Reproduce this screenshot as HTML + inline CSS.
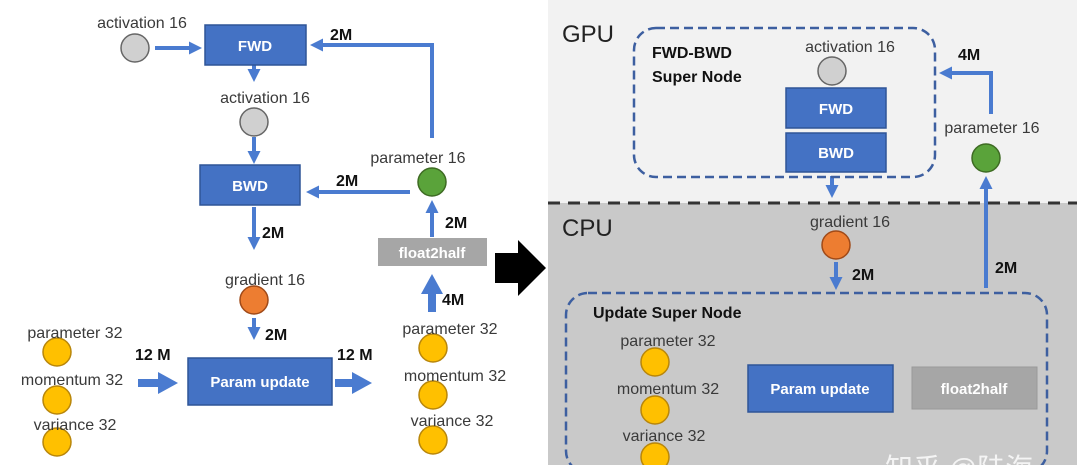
<!DOCTYPE html>
<html><head><meta charset="utf-8"><style>
html,body{margin:0;padding:0;background:#fff;}
svg{display:block;}
text{font-family:"Liberation Sans",Arial,sans-serif;}
.l{font-size:16px;fill:#3a3a3a;}
.b{font-size:16px;font-weight:bold;fill:#111;}
.bx{font-size:15px;font-weight:bold;fill:#fff;}
</style></head><body>
<svg width="1077" height="465" viewBox="0 0 1077 465" xmlns="http://www.w3.org/2000/svg">
<defs>
<marker id="a" markerWidth="13" markerHeight="13" refX="7" refY="6.5" orient="auto" markerUnits="userSpaceOnUse"><path d="M0,0 L13,6.5 L0,13 z" fill="#4a7bd0"/></marker>
<marker id="a2" markerWidth="20" markerHeight="22" refX="10" refY="11" orient="auto" markerUnits="userSpaceOnUse"><path d="M0,0 L20,11 L0,22 z" fill="#4a7bd0"/></marker>
</defs>
<rect x="0" y="0" width="1077" height="465" fill="#fff"/>
<rect x="548" y="0" width="529" height="203" fill="#f2f2f2"/>
<rect x="548" y="203" width="529" height="262" fill="#c9c9c9"/>
<line x1="548" y1="203" x2="1077" y2="203" stroke="#333" stroke-width="3" stroke-dasharray="12,8"/>

<g stroke="#4a7bd0" stroke-width="4" fill="none">
<line x1="155" y1="48" x2="196" y2="48" marker-end="url(#a)"/>
<line x1="254" y1="65" x2="254" y2="76" marker-end="url(#a)"/>
<line x1="254" y1="137" x2="254" y2="158" marker-end="url(#a)"/>
<polyline points="432,138 432,45 316,45" marker-end="url(#a)"/>
<line x1="410" y1="192" x2="312" y2="192" marker-end="url(#a)"/>
<line x1="254" y1="207" x2="254" y2="244" marker-end="url(#a)"/>
<line x1="432" y1="237" x2="432" y2="206" marker-end="url(#a)"/>
<line x1="254" y1="318" x2="254" y2="334" marker-end="url(#a)"/>
<line x1="832" y1="176" x2="832" y2="192" marker-end="url(#a)"/>
<polyline points="991,114 991,73 945,73" marker-end="url(#a)"/>
<line x1="986" y1="288" x2="986" y2="182" marker-end="url(#a)"/>
<line x1="836" y1="262" x2="836" y2="284" marker-end="url(#a)"/>
</g>
<g stroke="#4a7bd0" stroke-width="8" fill="none">
<line x1="432" y1="312" x2="432" y2="284" marker-end="url(#a2)"/>
<line x1="138" y1="383" x2="168" y2="383" marker-end="url(#a2)"/>
<line x1="335" y1="383" x2="362" y2="383" marker-end="url(#a2)"/>
</g>

<g stroke="#2f5597" stroke-width="1.5">
<rect x="205" y="25" width="101" height="40" fill="#4472c4"/>
<rect x="200" y="165" width="100" height="40" fill="#4472c4"/>
<rect x="188" y="358" width="144" height="47" fill="#4472c4"/>
<rect x="786" y="88" width="100" height="40" fill="#4472c4"/>
<rect x="786" y="133" width="100" height="39" fill="#4472c4"/>
<rect x="748" y="365" width="145" height="47" fill="#4472c4"/>
</g>
<rect x="378" y="238" width="109" height="28" fill="#a6a6a6"/>
<rect x="912" y="367" width="125" height="42" fill="#a6a6a6" stroke="#999"/>
<text x="255" y="51" text-anchor="middle" class="bx">FWD</text>
<text x="250" y="191" text-anchor="middle" class="bx">BWD</text>
<text x="260" y="387" text-anchor="middle" class="bx">Param update</text>
<text x="432" y="258" text-anchor="middle" class="bx" fill="#eee">float2half</text>
<text x="836" y="114" text-anchor="middle" class="bx">FWD</text>
<text x="836" y="158" text-anchor="middle" class="bx">BWD</text>
<text x="820" y="394" text-anchor="middle" class="bx">Param update</text>
<text x="974" y="394" text-anchor="middle" class="bx">float2half</text>

<rect x="634" y="28" width="301" height="149" rx="22" fill="none" stroke="#3d5fa0" stroke-width="2.5" stroke-dasharray="9,5"/>
<rect x="566" y="293" width="481" height="180" rx="22" fill="none" stroke="#3d5fa0" stroke-width="2.5" stroke-dasharray="9,5"/>

<g stroke="#666" stroke-width="1.5">
<circle cx="135" cy="48" r="14" fill="#d0d0d0"/>
<circle cx="254" cy="122" r="14" fill="#d0d0d0"/>
<circle cx="832" cy="71" r="14" fill="#d0d0d0"/>
</g>
<g stroke="#3e6b23" stroke-width="1.5" fill="#5aa33a">
<circle cx="432" cy="182" r="14"/>
<circle cx="986" cy="158" r="14"/>
</g>
<g stroke="#a04a18" stroke-width="1.5" fill="#ed7d31">
<circle cx="254" cy="300" r="14"/>
<circle cx="836" cy="245" r="14"/>
</g>
<g stroke="#b8860b" stroke-width="1.5" fill="#ffc000">
<circle cx="57" cy="352" r="14"/><circle cx="57" cy="400" r="14"/><circle cx="57" cy="442" r="14"/>
<circle cx="433" cy="348" r="14"/><circle cx="433" cy="395" r="14"/><circle cx="433" cy="440" r="14"/>
<circle cx="655" cy="362" r="14"/><circle cx="655" cy="410" r="14"/><circle cx="655" cy="457" r="14"/>
</g>

<path d="M495,253 L518,253 L518,240 L546,268 L518,296 L518,283 L495,283 z" fill="#000"/>

<text x="142" y="28" text-anchor="middle" class="l">activation 16</text>
<text x="265" y="103" text-anchor="middle" class="l">activation 16</text>
<text x="418" y="163" text-anchor="middle" class="l">parameter 16</text>
<text x="265" y="285" text-anchor="middle" class="l">gradient 16</text>
<text x="75" y="338" text-anchor="middle" class="l">parameter 32</text>
<text x="72" y="385" text-anchor="middle" class="l">momentum 32</text>
<text x="75" y="430" text-anchor="middle" class="l">variance 32</text>
<text x="450" y="334" text-anchor="middle" class="l">parameter 32</text>
<text x="455" y="381" text-anchor="middle" class="l">momentum 32</text>
<text x="452" y="426" text-anchor="middle" class="l">variance 32</text>
<text x="330" y="40" class="b">2M</text>
<text x="336" y="186" class="b">2M</text>
<text x="262" y="238" class="b">2M</text>
<text x="445" y="228" class="b">2M</text>
<text x="442" y="305" class="b">4M</text>
<text x="265" y="340" class="b">2M</text>
<text x="135" y="360" class="b">12 M</text>
<text x="337" y="360" class="b">12 M</text>

<text x="562" y="42" style="font-size:24px;fill:#222">GPU</text>
<text x="562" y="236" style="font-size:24px;fill:#222">CPU</text>
<text x="652" y="58" class="b">FWD-BWD</text>
<text x="652" y="82" class="b">Super Node</text>
<text x="850" y="52" text-anchor="middle" class="l">activation 16</text>
<text x="992" y="133" text-anchor="middle" class="l">parameter 16</text>
<text x="958" y="60" class="b">4M</text>
<text x="995" y="273" class="b">2M</text>
<text x="850" y="227" text-anchor="middle" class="l">gradient 16</text>
<text x="852" y="280" class="b">2M</text>
<text x="593" y="318" class="b">Update Super Node</text>
<text x="668" y="346" text-anchor="middle" class="l">parameter 32</text>
<text x="668" y="394" text-anchor="middle" class="l">momentum 32</text>
<text x="664" y="441" text-anchor="middle" class="l">variance 32</text>
<text x="885" y="478" style="font-size:28px;fill:#fff;fill-opacity:0.8;font-family:'Liberation Sans','Noto Sans CJK SC',sans-serif">知乎 @陆海</text>
</svg>
</body></html>
